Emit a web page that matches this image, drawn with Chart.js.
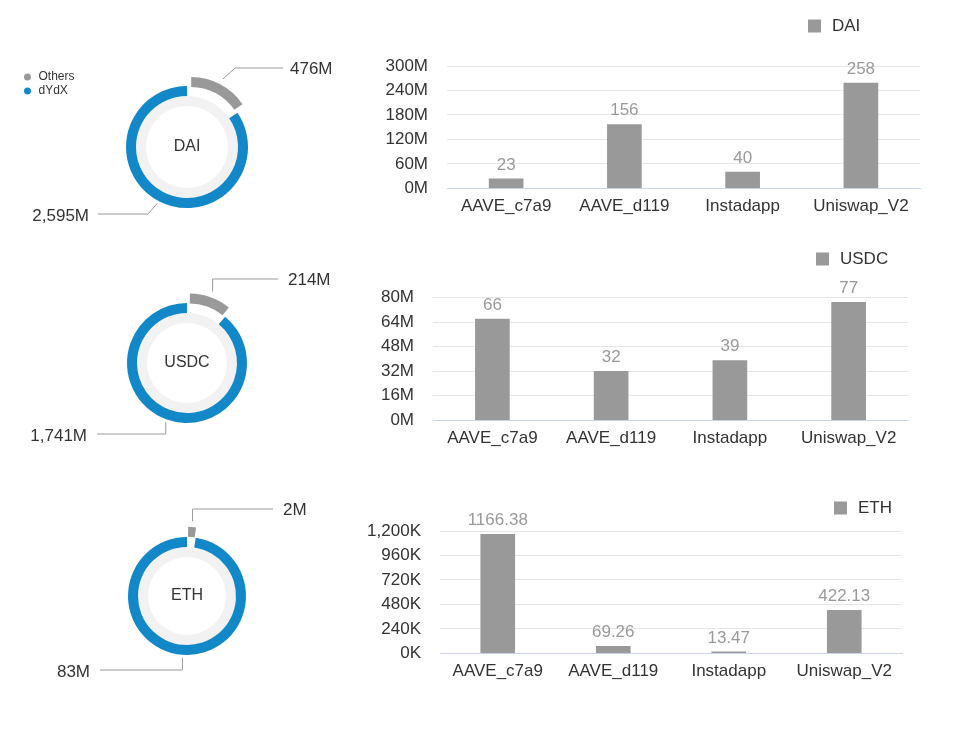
<!DOCTYPE html>
<html><head><meta charset="utf-8">
<script src="https://cdn.jsdelivr.net/npm/chart.js@4.4.1/dist/chart.umd.min.js"></script>
<style>
html,body{margin:0;padding:0;background:#fff;width:960px;height:735px;overflow:hidden;position:relative;}
canvas{position:absolute;}
</style></head><body>
<canvas id="d0"></canvas><canvas id="d1"></canvas><canvas id="d2"></canvas>
<canvas id="b0"></canvas><canvas id="b1"></canvas><canvas id="b2"></canvas>
<script>
// ---------- data ----------
const categories = ['AAVE_c7a9', 'AAVE_d119', 'Instadapp', 'Uniswap_V2'];
const tokens = ['DAI', 'USDC', 'ETH'];
const daiValues = [23, 156, 40, 258];          // M
const usdcValues = [66, 32, 39, 77];           // M
const ethValues = [1166.38, 69.26, 13.47, 422.13]; // K
const daiTicks = {max: 300, step: 60, unit: 'M'};
const usdcTicks = {max: 80, step: 16, unit: 'M'};
const ethTicks = {max: 1200, step: 240, unit: 'K'};
const sliceLabels = ['Others', 'dYdX'];
const daiShare = [476, 2595];   // M
const usdcShare = [214, 1741];  // M
const ethShare = [2, 83];       // M

// ---------- style / layout ----------
const FONT = '"Liberation Sans", Arial, Helvetica, sans-serif';
Chart.defaults.font.family = FONT;
const GRAY = '#999999', BLUE = '#1388c8', TRACK = '#f2f2f2', TEXT = '#333333';

const donutLayout = [
  {cx: 187, cy: 147, r: 61, offset: 34, startGap: [16, 3],
   top: {dx: 12, dy: -79, end: 96, text: 103, ty: 1.5}, bottom: {dx: -9, dy: 67, end: -89, text: -98, ty: 2.5}},
  {cx: 187, cy: 363, r: 60, offset: 29, startGap: [16, 3],
   top: {dx: 0, dy: -84, end: 91, text: 101, ty: 1}, bottom: {dx: 0, dy: 71, end: -90, text: -100, ty: 2}},
  {cx: 187, cy: 596, r: 59, offset: 22, startGap: [16, 3],
   top: {dx: 0, dy: -87, end: 86, text: 96, ty: 1.5}, bottom: {dx: 0, dy: 74, end: -87, text: -97, ty: 2}}
];
const barLayout = [
  {top: 0, h: 235, plotLeft: 447, plotRight: 920, plotTop: 66, plotBottom: 188.3, legendX: 808, legendY: 26},
  {top: 235, h: 235, plotLeft: 433, plotRight: 908, plotTop: 297.7, plotBottom: 420.3, legendX: 816, legendY: 259},
  {top: 470, h: 235, plotLeft: 440, plotRight: 902, plotTop: 531, plotBottom: 653.3, legendX: 834, legendY: 508}
];

// ---------- plugins ----------
const donutDecor = {
  id: 'donutDecor',
  afterDraw(chart, args, opts) {
    const ctx = chart.ctx, L = opts.layout, vals = chart.data.datasets[0].data;
    const meta = chart.getDatasetMeta(0);
    ctx.save();
    // center text
    ctx.fillStyle = TEXT; ctx.font = '16px ' + FONT;
    ctx.textAlign = 'center'; ctx.textBaseline = 'middle';
    const a0 = meta.data[0];
    ctx.fillText(opts.title, a0.x, a0.y);
    // leader lines + labels
    meta.data.forEach((arc, i) => {
      const mid = (arc.startAngle + arc.endAngle) / 2;
      const rr = arc.outerRadius + L.startGap[i];
      const sx = arc.x + Math.cos(mid) * rr, sy = arc.y + Math.sin(mid) * rr;
      const side = i === 0 ? L.top : L.bottom;
      const ey = arc.y + side.dy, ex = sx + side.dx, lx = arc.x + side.end;
      ctx.strokeStyle = '#9a9a9a'; ctx.lineWidth = 1;
      ctx.beginPath(); ctx.moveTo(sx, sy); ctx.lineTo(ex, ey); ctx.lineTo(lx, ey); ctx.stroke();
      ctx.fillStyle = TEXT; ctx.font = '17px ' + FONT;
      ctx.textAlign = i === 0 ? 'left' : 'right';
      ctx.fillText(vals[i].toLocaleString('en-US') + 'M', arc.x + side.text, ey + side.ty);
    });
    // legend
    if (opts.legend) {
      const bg = chart.data.datasets[0].backgroundColor;
      ctx.font = '12px ' + FONT; ctx.textAlign = 'left';
      chart.data.labels.forEach((lab, i) => {
        const y = opts.legend.y + i * 14 - chart.canvas.offsetTop;
        ctx.fillStyle = bg[i];
        ctx.beginPath(); ctx.arc(opts.legend.x, y, 3.5, 0, Math.PI * 2); ctx.fill();
        ctx.fillStyle = TEXT;
        ctx.fillText(lab, opts.legend.x + 11, y);
      });
    }
    ctx.restore();
  }
};

const barDecor = {
  id: 'barDecor',
  afterDatasetsDraw(chart, args, opts) {
    const ctx = chart.ctx, ds = chart.data.datasets[0], meta = chart.getDatasetMeta(0);
    ctx.save();
    ctx.font = '17px ' + FONT; ctx.fillStyle = '#9a9a9a';
    ctx.textAlign = 'center'; ctx.textBaseline = 'middle';
    meta.data.forEach((bar, i) => ctx.fillText(String(ds.data[i]), bar.x, bar.y - 14));
    // legend
    const lx = opts.x - chart.canvas.offsetLeft, ly = opts.y - chart.canvas.offsetTop;
    ctx.fillStyle = ds.backgroundColor;
    ctx.fillRect(lx, ly - 6.5, 13, 13);
    ctx.fillStyle = TEXT; ctx.font = '17px ' + FONT; ctx.textAlign = 'left';
    ctx.fillText(ds.label, lx + 24, ly);
    ctx.restore();
  }
};

// ---------- builders ----------
function donut(id, L, title, values, legend) {
  const cv = document.getElementById(id);
  const W = 2 * L.cx, H = 240;
  cv.width = W; cv.height = H;
  cv.style.left = '0px'; cv.style.top = (L.cy - H / 2) + 'px';
  new Chart(cv, {
    type: 'doughnut',
    data: {labels: sliceLabels, datasets: [
      {data: values, backgroundColor: [GRAY, BLUE], borderWidth: 0, offset: [L.offset, 0], hoverOffset: 0},
      {data: [1], backgroundColor: [TRACK], borderWidth: 0, hoverOffset: 0}
    ]},
    options: {
      responsive: false, animation: false, events: [],
      radius: L.r, cutout: ((L.r - 20) / L.r * 100) + '%',
      layout: {padding: 0},
      plugins: {legend: {display: false}, tooltip: {enabled: false},
        donutDecor: {layout: L, title: title, legend: legend}}
    },
    plugins: [donutDecor]
  });
}

function bars(id, L, label, values, T) {
  const cv = document.getElementById(id);
  cv.width = 600; cv.height = L.h;
  cv.style.left = '360px'; cv.style.top = L.top + 'px';
  new Chart(cv, {
    type: 'bar',
    data: {labels: categories, datasets: [{label: label, data: values, backgroundColor: GRAY, barThickness: 34}]},
    options: {
      responsive: false, animation: false, events: [],
      layout: {padding: {top: L.plotTop - L.top, right: 960 - L.plotRight, left: 0, bottom: 0}},
      plugins: {legend: {display: false}, tooltip: {enabled: false}, barDecor: {x: L.legendX, y: L.legendY}},
      scales: {
        x: {
          grid: {display: false, drawTicks: false},
          border: {display: true, color: '#ccd6eb', width: 1},
          ticks: {color: TEXT, font: {size: 17}, padding: 8, maxRotation: 0, autoSkip: false},
          afterFit: s => { s.height = L.top + L.h - L.plotBottom; }
        },
        y: {
          min: 0, max: T.max,
          grid: {color: c => (c.tick && c.tick.value === 0) ? 'rgba(0,0,0,0)' : '#e6e6e6', drawTicks: false},
          border: {display: false},
          ticks: {stepSize: T.step, color: TEXT, font: {size: 17}, padding: 19,
            callback: v => v.toLocaleString('en-US') + T.unit},
          afterFit: s => { s.width = L.plotLeft - 360; }
        }
      }
    },
    plugins: [barDecor]
  });
}

donut('d0', donutLayout[0], tokens[0], daiShare, {x: 27.5, y: 77});
donut('d1', donutLayout[1], tokens[1], usdcShare, null);
donut('d2', donutLayout[2], tokens[2], ethShare, null);
bars('b0', barLayout[0], tokens[0], daiValues, daiTicks);
bars('b1', barLayout[1], tokens[1], usdcValues, usdcTicks);
bars('b2', barLayout[2], tokens[2], ethValues, ethTicks);
</script>
</body></html>
